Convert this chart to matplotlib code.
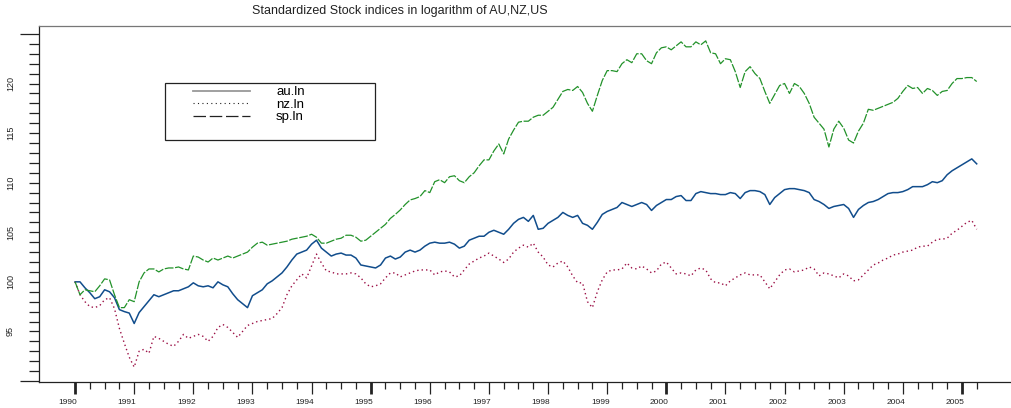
import numpy as np
import matplotlib

matplotlib.use("Agg")
import matplotlib.pyplot as plt
from matplotlib.lines import Line2D
from matplotlib.patches import Rectangle
from matplotlib.transforms import ScaledTranslation

plt.rcParams["font.family"] = ["Liberation Sans", "DejaVu Sans"]

# monthly readings, Jan 1990 .. Apr 2005
start_year = 1990
n_months = 184

au_ln = [
    100.0, 100.0, 99.4, 98.9, 98.3, 98.5, 99.2, 99.0, 98.4, 97.2, 97.0, 96.85,
    95.8, 96.9, 97.5, 98.1, 98.7, 98.5, 98.7, 98.9, 99.1, 99.1, 99.3, 99.5,
    99.9, 99.6, 99.5, 99.6, 99.4, 100.0, 99.7, 99.5, 98.8, 98.2, 97.8, 97.4,
    98.6, 98.9, 99.2, 99.8, 100.1, 100.5, 100.9, 101.5, 102.2, 102.8, 103.0, 103.2,
    103.8, 104.2, 103.4, 103.0, 102.6, 102.8, 102.9, 102.7, 102.7, 102.4, 101.7, 101.6,
    101.5, 101.4, 101.7, 102.4, 102.6, 102.3, 102.5, 103.0, 103.2, 103.0, 103.2, 103.6,
    103.9, 104.0, 103.9, 103.9, 104.0, 103.8, 103.4, 103.6, 104.2, 104.4, 104.6, 104.6,
    105.0, 105.2, 105.0, 104.8, 105.3, 105.9, 106.3, 106.5, 106.1, 106.7, 105.3, 105.4,
    105.9, 106.2, 106.5, 107.0, 106.7, 106.5, 106.7, 105.9, 105.7, 105.3, 106.0, 106.8,
    107.1, 107.3, 107.5, 108.0, 107.8, 107.6, 107.8, 108.0, 107.8, 107.2, 107.7, 108.0,
    108.3, 108.3, 108.6, 108.7, 108.2, 108.2, 108.9, 109.1, 109.0, 108.9, 108.9, 108.8,
    108.8, 109.0, 108.9, 108.4, 109.0, 109.2, 109.2, 109.1, 108.8, 107.8, 108.5, 108.9,
    109.3, 109.4, 109.4, 109.3, 109.2, 109.0, 108.3, 108.1, 107.8, 107.4, 107.6, 107.7,
    107.8, 107.4, 106.5, 107.3, 107.7, 108.0, 108.1, 108.3, 108.6, 108.9, 109.0, 109.0,
    109.1, 109.3, 109.6, 109.6, 109.6, 109.8, 110.1, 110.0, 110.2, 110.8, 111.2, 111.5,
    111.8, 112.1, 112.4, 111.9,
]

nz_ln = [
    100.0, 98.7, 98.0, 97.5, 97.4, 97.6, 98.2, 98.4, 97.3, 95.3, 93.8, 92.4,
    91.4, 93.0, 93.2, 92.8, 94.5, 94.3, 94.0, 93.7, 93.5, 94.0, 94.7, 94.3,
    94.5, 94.7, 94.5, 94.0, 94.5, 95.4, 95.7, 95.4, 94.9, 94.4, 95.0, 95.6,
    95.8, 96.0, 96.1, 96.2, 96.3, 96.8, 97.4, 98.7, 99.6, 100.2, 100.8, 100.4,
    101.6, 102.8, 101.9, 101.1, 101.0, 100.8, 100.8, 100.8, 100.9, 100.8, 100.4, 99.8,
    99.5, 99.6, 99.8, 100.4, 100.9, 100.9, 100.5, 100.7, 100.9, 101.1, 101.2, 101.2,
    101.2, 100.7, 101.0, 101.1, 101.0, 100.5, 100.6, 101.2, 101.8, 102.1, 102.4, 102.6,
    102.9, 102.6, 102.3, 101.95, 102.3, 103.0, 103.4, 103.7, 103.5, 103.9, 103.0, 102.5,
    101.7, 101.5, 101.9, 102.1, 101.5, 100.6, 99.9, 99.9, 98.0, 97.4, 99.0, 100.2,
    101.0, 101.2, 101.2, 101.3, 101.9, 101.4, 101.3, 101.6, 101.3, 100.9, 101.1, 101.8,
    102.0, 101.4, 100.8, 100.9, 100.8, 100.6, 101.2, 101.4, 101.2, 100.3, 99.9, 99.9,
    99.6, 100.1, 100.4, 100.7, 100.9, 100.7, 100.7, 100.7, 100.0, 99.3, 100.0, 100.7,
    101.2, 101.3, 101.0, 101.1, 101.2, 101.5, 101.3, 100.6, 100.9, 100.8, 100.6, 100.4,
    100.8, 100.6, 100.1, 100.2, 100.7, 101.2, 101.7, 101.9, 102.2, 102.4, 102.7, 102.8,
    103.0, 103.1, 103.2, 103.5, 103.6, 103.6, 104.0, 104.3, 104.3, 104.4, 104.9, 105.2,
    105.6, 106.0, 106.2, 105.3,
]

sp_ln = [
    100.0, 98.7, 99.2, 99.1, 99.0, 99.6, 100.3, 100.2, 98.7, 97.4, 97.4, 98.2,
    98.0, 100.0, 100.9, 101.3, 101.3, 101.0, 101.3, 101.4, 101.4, 101.5, 101.3, 101.2,
    102.6, 102.5, 102.2, 102.0, 102.4, 102.2, 102.4, 102.6, 102.4, 102.6, 102.8, 103.0,
    103.5, 103.9, 104.0, 103.7, 103.8, 103.9, 104.0, 104.1, 104.3, 104.4, 104.5, 104.6,
    104.8, 104.5, 103.9, 103.9, 104.1, 104.3, 104.4, 104.7, 104.7, 104.5, 104.1, 104.2,
    104.6, 105.0, 105.4, 105.8, 106.4, 106.8, 107.25, 107.8, 108.26, 108.4, 108.6, 109.2,
    109.0, 110.1, 110.3, 110.0, 110.6, 110.7, 110.2, 110.0, 110.6, 111.0, 111.7, 112.3,
    112.3, 113.2, 113.9, 112.9, 114.4, 115.3, 116.1, 116.2, 116.2, 116.6, 116.8, 116.8,
    117.2, 117.6, 118.4, 119.2, 119.4, 119.3, 119.7, 119.1, 118.0, 117.2, 118.8, 120.3,
    121.3, 121.3, 121.2, 122.0, 122.4, 122.1, 123.0, 123.0, 122.3, 122.0, 123.1, 123.6,
    123.7, 123.4, 123.8, 124.2, 123.7, 123.7, 124.2, 123.9, 124.3, 123.1, 123.0, 122.0,
    122.5, 122.4, 121.2, 119.6, 121.2, 121.7, 121.0, 120.5, 119.2, 118.0, 118.9, 119.8,
    120.0, 119.0, 120.0, 119.7, 119.0, 118.0, 116.6, 116.0, 115.4, 113.6, 115.4, 116.2,
    115.5, 114.3, 114.0, 115.2, 116.0, 117.4, 117.3, 117.5, 117.7, 117.9, 118.1, 118.5,
    119.2, 119.8, 119.5, 119.6, 119.0, 119.5, 119.3, 118.8, 119.2, 119.3, 120.0, 120.5,
    120.5, 120.6, 120.6, 120.2,
]

series_names = ["au.ln", "nz.ln", "sp.ln"]
year_ticks = list(range(1990, 2006))
y_label_ticks = [95, 100, 105, 110, 115, 120]
title = "Standardized Stock indices in logarithm of AU,NZ,US"

PX = 72 / 100  # points per pixel at dpi 100

dates = start_year + np.arange(n_months) / 12.0

fig = plt.figure(figsize=(10.11, 4.08), dpi=100)
ax = fig.add_axes([39 / 1011, 1 - 382 / 408, 1 - 39 / 1011, (382 - 26) / 408])

ax.plot(dates, au_ln, color="#114d8c", lw=1.1, solid_joinstyle="round")
ax.plot(dates, nz_ln, color="#9b0f45", lw=1.0, linestyle=(0, (1, 2.2)))
ax.plot(dates, sp_ln, color="#22922a", lw=0.9, linestyle=(0, (7, 1.3)))

ax.set_xlim(1989.39, 2005.83)
ax.set_ylim(89.9, 125.8)

ax.spines["right"].set_visible(False)
ax.spines["top"].set_color("#777777")
ax.spines["left"].set_color("#222222")
ax.spines["bottom"].set_color("#222222")
for side in ["top", "left", "bottom"]:
    ax.spines[side].set_linewidth(0.9)

# x axis: yearly major, quarterly minor, thick every 5 years
ax.set_xticks(year_ticks)
ax.set_xticklabels([str(y) for y in year_ticks], fontsize=6, color="#222222")
ax.set_xticks(np.arange(1990, 2005.3, 0.25), minor=True)
ax.tick_params(axis="x", which="major", length=12 * PX, width=0.9, pad=5 * PX, color="#222222")
ax.tick_params(axis="x", which="minor", length=7 * PX, width=0.9, color="#222222")
for tick, year in zip(ax.xaxis.get_major_ticks(), year_ticks):
    if year % 5 == 0:
        tick.tick1line.set_markeredgewidth(2.0)
shift = ScaledTranslation(-7 / 100, 0, fig.dpi_scale_trans)
for lab in ax.get_xticklabels():
    lab.set_transform(lab.get_transform() + shift)

# y axis: unit ticks, labels every 5, long ticks at the ends
ax.set_yticks([90] + y_label_ticks + [125])
ax.set_yticklabels([""] + [str(v) for v in y_label_ticks] + [""], fontsize=6.5,
                   rotation=90, va="center", color="#222222")
ax.set_yticks(range(90, 126), minor=True)
ax.tick_params(axis="y", which="both", length=10 * PX, width=0.9, pad=14 * PX, color="#222222")
for tick, val in zip(ax.yaxis.get_major_ticks(), [90] + y_label_ticks + [125]):
    if val in (90, 125):
        tick.tick1line.set_markersize(19 * PX)

# legend in a plain box, handles in black
box = Rectangle((126 / 972, (382 - 140) / 356), 210 / 972, 57 / 356,
                transform=ax.transAxes, fill=False, edgecolor="#222222", lw=0.9)
ax.add_patch(box)
handles = [
    Line2D([], [], color="#999999", lw=1.3),
    Line2D([], [], color="#222222", lw=0.8, linestyle=(0, (1, 3))),
    Line2D([], [], color="#222222", lw=0.9, linestyle=(0, (10, 3))),
]
ax.legend(handles, series_names, loc="upper left", bbox_to_anchor=(154 / 972, (382 - 86) / 356),
          frameon=False, fontsize=9.5, handlelength=4.3, handletextpad=2.0,
          labelspacing=0.02, borderpad=0, borderaxespad=0)

fig.text(400 / 1011, 1 - 11 / 408, title, ha="center", va="center", fontsize=9, color="#222222")

fig.savefig("out.png", dpi=100)
